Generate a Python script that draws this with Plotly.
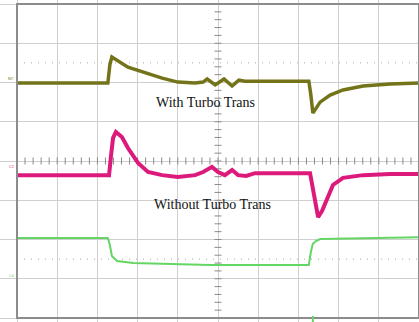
import plotly.graph_objects as go

# time in divisions (0..10), amplitude in divisions (0..8 from bottom)
t_turbo = [0, 2.26, 2.31, 2.36, 2.76, 3.18, 3.61, 4.00, 4.43, 4.63, 4.73, 4.93, 5.15, 5.35, 5.52,
           5.67, 7.26, 7.31, 7.36, 7.54, 7.79, 8.11, 8.61, 9.28, 10]
v_turbo = [5.99, 5.99, 6.45, 6.65, 6.39, 6.24, 6.11, 6.01, 5.99, 6.01, 6.09, 5.94, 6.09, 5.91, 6.06,
           6.03, 6.03, 5.68, 5.22, 5.50, 5.68, 5.81, 5.91, 5.96, 5.99]

t_noturbo = [0, 2.29, 2.34, 2.39, 2.46, 2.61, 2.76, 3.01, 3.26, 3.61, 4.00, 4.43, 4.63, 4.85, 5.00,
             5.17, 5.35, 5.50, 5.70, 5.92, 7.29, 7.36, 7.44, 7.49, 7.59, 7.71, 7.86, 8.11, 8.61,
             9.28, 10]
v_noturbo = [3.64, 3.64, 4.15, 4.59, 4.74, 4.61, 4.33, 3.95, 3.72, 3.64, 3.59, 3.64, 3.72, 3.85, 3.72,
             3.64, 3.77, 3.64, 3.62, 3.69, 3.69, 3.26, 2.80, 2.57, 2.73, 3.01, 3.39, 3.57, 3.64,
             3.67, 3.67]

t_load = [0, 2.26, 2.31, 2.36, 2.49, 2.89, 4.80, 7.26, 7.31, 7.36, 7.44, 7.54, 10]
v_load = [2.04, 2.04, 1.86, 1.58, 1.45, 1.40, 1.35, 1.35, 1.68, 1.89, 1.96, 2.01, 2.06]

label_turbo = "With Turbo Trans"
label_noturbo = "Without Turbo Trans"

OLIVE = "#737319"
MAGENTA = "#dc1a7c"
GREEN = "#64d664"
GRID = "#cfcfcf"

fig = go.Figure()

# center graticule ticks
fig.add_trace(go.Scatter(x=[5] * 41, y=[i * 0.2 for i in range(41)], mode="markers",
                         marker=dict(symbol="line-ew", size=5, line=dict(width=1, color="#8a8a8a")),
                         hoverinfo="skip", showlegend=False))
fig.add_trace(go.Scatter(x=[i * 0.2 for i in range(51)], y=[4] * 51, mode="markers",
                         marker=dict(symbol="line-ns", size=5, line=dict(width=1, color="#8a8a8a")),
                         hoverinfo="skip", showlegend=False))

fig.add_trace(go.Scatter(x=t_load, y=v_load, mode="lines", line=dict(color=GREEN, width=2),
                         showlegend=False))
fig.add_trace(go.Scatter(x=t_noturbo, y=v_noturbo, mode="lines", line=dict(color=MAGENTA, width=4),
                         showlegend=False))
fig.add_trace(go.Scatter(x=t_turbo, y=v_turbo, mode="lines", line=dict(color=OLIVE, width=3.5),
                         showlegend=False))

shapes = []
for yv in (6.5, 1.5):
    shapes.append(dict(type="line", xref="x", yref="y", x0=0, x1=10, y0=yv, y1=yv,
                       line=dict(color="#a8a8a8", width=1, dash="1px,6px"), layer="below"))
shapes.append(dict(type="rect", xref="x", yref="y", x0=0, x1=10, y0=0, y1=8,
                   line=dict(color="#8c8c8c", width=2), layer="above"))
shapes.append(dict(type="line", xref="x", yref="y", x0=7.36, x1=7.36, y0=-0.12, y1=0.05,
                   line=dict(color=GREEN, width=2)))

annotations = [
    dict(x=4.68, y=5.48, text=label_turbo, showarrow=False, xanchor="center", yanchor="middle",
         font=dict(family="Liberation Serif, Times New Roman, serif", size=14, color="#111")),
    dict(x=4.86, y=2.88, text=label_noturbo, showarrow=False, xanchor="center", yanchor="middle",
         font=dict(family="Liberation Serif, Times New Roman, serif", size=14, color="#111")),
    dict(x=-0.15, y=6.1, text="M1", showarrow=False, font=dict(size=4, color=OLIVE)),
    dict(x=-0.12, y=3.85, text="C2", showarrow=False, font=dict(size=4, color=MAGENTA)),
    dict(x=-0.12, y=1.08, text="C4", showarrow=False, font=dict(size=4, color=GREEN)),
]

fig.update_layout(
    width=419, height=322, margin=dict(l=0, r=0, t=0, b=0),
    paper_bgcolor="white", plot_bgcolor="white",
    shapes=shapes, annotations=annotations,
    xaxis=dict(range=[-0.4229, 10], showgrid=True, gridcolor=GRID, gridwidth=1, dtick=1, tick0=0,
               zeroline=False, showticklabels=False, ticks="", fixedrange=True),
    yaxis=dict(range=[-0.1019, 8.1019], showgrid=True, gridcolor=GRID, gridwidth=1, dtick=1, tick0=0,
               zeroline=False, showticklabels=False, ticks="", fixedrange=True),
)

fig.write_html("out.html", config={"displayModeBar": False},
               post_script="document.body.style.margin='0';document.body.style.overflow='hidden';")
